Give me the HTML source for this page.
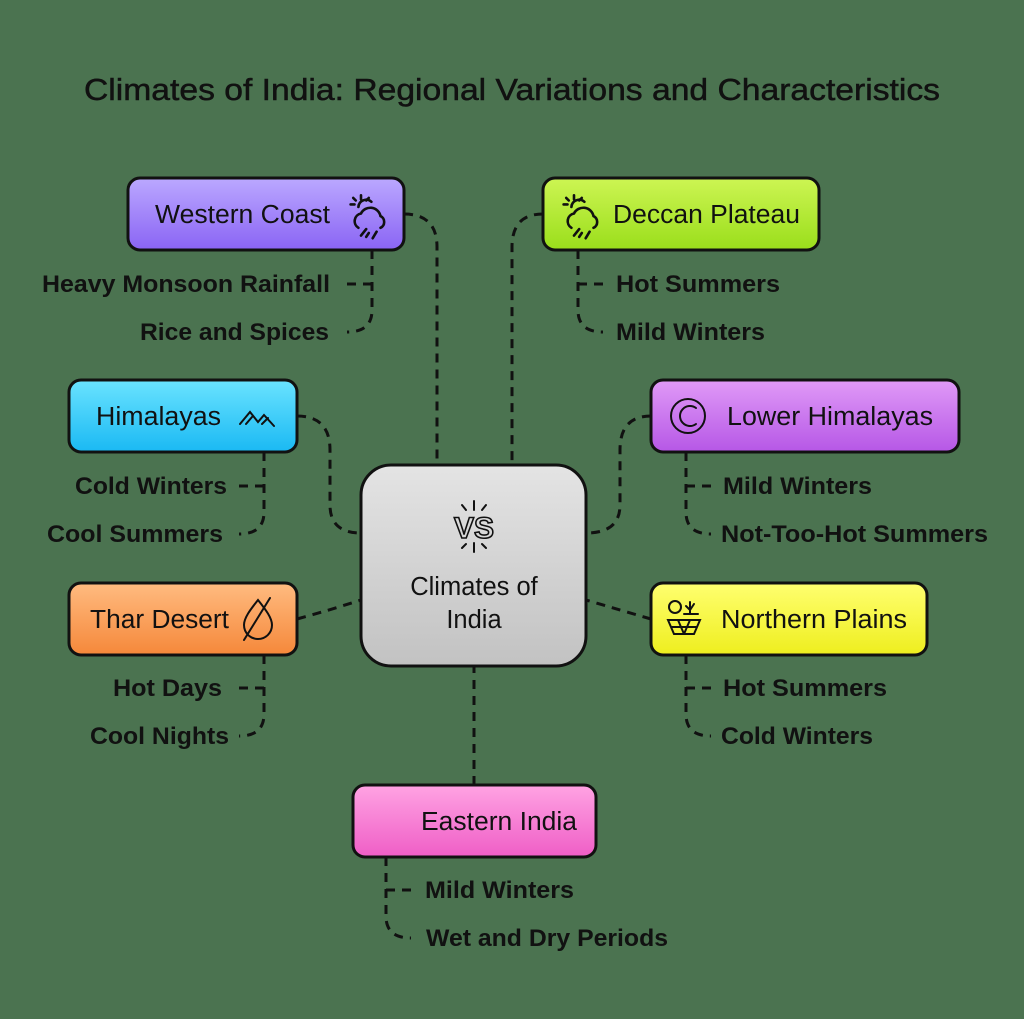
<!DOCTYPE html>
<html><head><meta charset="utf-8"><style>
html,body{margin:0;padding:0;background:#4b7350;}
svg{display:block;font-family:"Liberation Sans",sans-serif;}
.lbl{font-size:25.5px;fill:#111;}
.it{font-size:24px;font-weight:bold;fill:#111;}
.d{fill:none;stroke:#111;stroke-width:3;stroke-dasharray:9 7;}
.n{stroke:#111;stroke-width:3;}
.ic{fill:none;stroke:#111;stroke-width:2;stroke-linecap:round;}
</style></head><body>
<svg width="1024" height="1019" viewBox="0 0 1024 1019">
<defs>
<linearGradient id="gp" x1="0" y1="0" x2="0" y2="1"><stop offset="0" stop-color="#bba8ff"/><stop offset="1" stop-color="#8a64f4"/></linearGradient>
<linearGradient id="gl" x1="0" y1="0" x2="0" y2="1"><stop offset="0" stop-color="#cdf553"/><stop offset="1" stop-color="#9ade1b"/></linearGradient>
<linearGradient id="gc" x1="0" y1="0" x2="0" y2="1"><stop offset="0" stop-color="#6ae3ff"/><stop offset="1" stop-color="#1ab9f3"/></linearGradient>
<linearGradient id="gv" x1="0" y1="0" x2="0" y2="1"><stop offset="0" stop-color="#e09af7"/><stop offset="1" stop-color="#b657e6"/></linearGradient>
<linearGradient id="go" x1="0" y1="0" x2="0" y2="1"><stop offset="0" stop-color="#ffbb80"/><stop offset="1" stop-color="#f5883a"/></linearGradient>
<linearGradient id="gy" x1="0" y1="0" x2="0" y2="1"><stop offset="0" stop-color="#ffff70"/><stop offset="1" stop-color="#eeee1e"/></linearGradient>
<linearGradient id="gk" x1="0" y1="0" x2="0" y2="1"><stop offset="0" stop-color="#ffa3e3"/><stop offset="1" stop-color="#ef5ec6"/></linearGradient>
<linearGradient id="gg" x1="0" y1="0" x2="0" y2="1"><stop offset="0" stop-color="#e4e4e4"/><stop offset="1" stop-color="#c2c2c2"/></linearGradient>
</defs>
<text x="84" y="100" font-size="31" fill="#111" stroke="#111" stroke-width="0.5" textLength="856" lengthAdjust="spacingAndGlyphs">Climates of India: Regional Variations and Characteristics</text>

<path class="d" d="M404 214 Q437 214 437 247 L437 465"/>
<path class="d" d="M543 214 Q512 214 512 247 L512 465"/>
<path class="d" d="M297 416 Q330 416 330 450 L330 505 Q330 533 361 533"/>
<path class="d" d="M651 416 Q620 416 620 450 L620 505 Q620 533 586 533"/>
<path class="d" d="M297 619 Q330 610 361 600"/>
<path class="d" d="M651 619 Q620 610 586 600"/>
<path class="d" d="M474 785 L474 666"/>

<path class="d" d="M372 250 L372 310 Q372 332 347 332"/><path class="d" d="M347 284 L372 284"/>
<path class="d" d="M578 250 L578 310 Q578 332 603 332"/><path class="d" d="M578 284 L603 284"/>
<path class="d" d="M264 452 L264 512 Q264 534 239 534"/><path class="d" d="M239 486 L264 486"/>
<path class="d" d="M686 452 L686 512 Q686 534 711 534"/><path class="d" d="M686 486 L711 486"/>
<path class="d" d="M264 655 L264 714 Q264 736 239 736"/><path class="d" d="M239 688 L264 688"/>
<path class="d" d="M686 655 L686 714 Q686 736 711 736"/><path class="d" d="M686 688 L711 688"/>
<path class="d" d="M386 857 L386 916 Q386 938 411 938"/><path class="d" d="M386 890 L411 890"/>

<rect class="n" x="128" y="178" width="276" height="72" rx="12" fill="url(#gp)"/>
<text class="lbl" x="155" y="223" textLength="175" lengthAdjust="spacingAndGlyphs">Western Coast</text>
<g class="ic" transform="translate(348,194) scale(1.3)"><path d="M8 10a6 6 0 0 1 10-4M2 8h3M10 1v3M4 3l2 2M16 3l-2 2"/><path d="M8 26a6 6 0 0 1 2-11a8 8 0 0 1 15 2a5 5 0 0 1 0 9"/><path d="M10 32l4-5M19 34l3-5M14 33l2-3"/></g>

<rect class="n" x="543" y="178" width="276" height="72" rx="12" fill="url(#gl)"/>
<text class="lbl" x="613" y="223" textLength="187" lengthAdjust="spacingAndGlyphs">Deccan Plateau</text>
<g class="ic" transform="translate(561,194) scale(1.3)"><path d="M8 10a6 6 0 0 1 10-4M2 8h3M10 1v3M4 3l2 2M16 3l-2 2"/><path d="M8 26a6 6 0 0 1 2-11a8 8 0 0 1 15 2a5 5 0 0 1 0 9"/><path d="M10 32l4-5M19 34l3-5M14 33l2-3"/></g>

<rect class="n" x="69" y="380" width="228" height="72" rx="12" fill="url(#gc)"/>
<text class="lbl" x="96" y="425" textLength="125" lengthAdjust="spacingAndGlyphs">Himalayas</text>
<g class="ic" transform="translate(240,404)" stroke-width="2.5"><path d="M0 20l10-12 8 10 6-7 10 11"/><path d="M6 20l6-7M22 20l6-6"/></g>

<rect class="n" x="651" y="380" width="308" height="72" rx="12" fill="url(#gv)"/>
<text class="lbl" x="727" y="425" textLength="206" lengthAdjust="spacingAndGlyphs">Lower Himalayas</text>
<g class="ic" stroke-width="2.5"><circle cx="688" cy="416" r="17"/><path d="M696 408a10 10 0 1 0 0 16"/></g>

<rect class="n" x="69" y="583" width="228" height="72" rx="12" fill="url(#go)"/>
<text class="lbl" x="90" y="628" textLength="139" lengthAdjust="spacingAndGlyphs">Thar Desert</text>
<g class="ic" stroke-width="2.5"><path d="M258 600c-8 10-14 18-14 25a14 14 0 0 0 28 0c0-7-6-15-14-25z"/><path d="M244 640L270 598"/></g>

<rect class="n" x="651" y="583" width="276" height="72" rx="12" fill="url(#gy)"/>
<text class="lbl" x="721" y="628" textLength="186" lengthAdjust="spacingAndGlyphs">Northern Plains</text>
<g class="ic" stroke-width="2.2" transform="translate(668,600)"><circle cx="7" cy="7" r="6"/><path d="M22 14V2M18 6l4 4 4-6M16 14h14"/><path d="M0 20h32L26 34H6z M4 27h24M10 20l6 14M22 20l-6 14"/></g>

<rect class="n" x="353" y="785" width="243" height="72" rx="12" fill="url(#gk)"/>
<text class="lbl" x="421" y="830" textLength="156" lengthAdjust="spacingAndGlyphs">Eastern India</text>

<rect class="n" x="361" y="465" width="225" height="201" rx="30" fill="url(#gg)"/>
<g class="ic" stroke-width="2.2"><path d="M474 501v9M474 543v9M462 505l4 5M486 505l-4 5M462 548l4-4M486 548l-4-4"/></g>
<text x="474" y="538" text-anchor="middle" font-size="30" font-weight="bold" fill="none" stroke="#111" stroke-width="1.6">VS</text>
<text class="lbl" x="474" y="595" text-anchor="middle">Climates of</text>
<text class="lbl" x="474" y="628" text-anchor="middle">India</text>

<text class="it" x="42" y="292" textLength="288" lengthAdjust="spacingAndGlyphs">Heavy Monsoon Rainfall</text>
<text class="it" x="140" y="340" textLength="189" lengthAdjust="spacingAndGlyphs">Rice and Spices</text>
<text class="it" x="616" y="292" textLength="164" lengthAdjust="spacingAndGlyphs">Hot Summers</text>
<text class="it" x="616" y="340" textLength="149" lengthAdjust="spacingAndGlyphs">Mild Winters</text>
<text class="it" x="75" y="494" textLength="152" lengthAdjust="spacingAndGlyphs">Cold Winters</text>
<text class="it" x="47" y="542" textLength="176" lengthAdjust="spacingAndGlyphs">Cool Summers</text>
<text class="it" x="723" y="494" textLength="149" lengthAdjust="spacingAndGlyphs">Mild Winters</text>
<text class="it" x="721" y="542" textLength="267" lengthAdjust="spacingAndGlyphs">Not-Too-Hot Summers</text>
<text class="it" x="113" y="696" textLength="109" lengthAdjust="spacingAndGlyphs">Hot Days</text>
<text class="it" x="90" y="744" textLength="139" lengthAdjust="spacingAndGlyphs">Cool Nights</text>
<text class="it" x="723" y="696" textLength="164" lengthAdjust="spacingAndGlyphs">Hot Summers</text>
<text class="it" x="721" y="744" textLength="152" lengthAdjust="spacingAndGlyphs">Cold Winters</text>
<text class="it" x="425" y="898" textLength="149" lengthAdjust="spacingAndGlyphs">Mild Winters</text>
<text class="it" x="426" y="946" textLength="242" lengthAdjust="spacingAndGlyphs">Wet and Dry Periods</text>
</svg>
</body></html>
